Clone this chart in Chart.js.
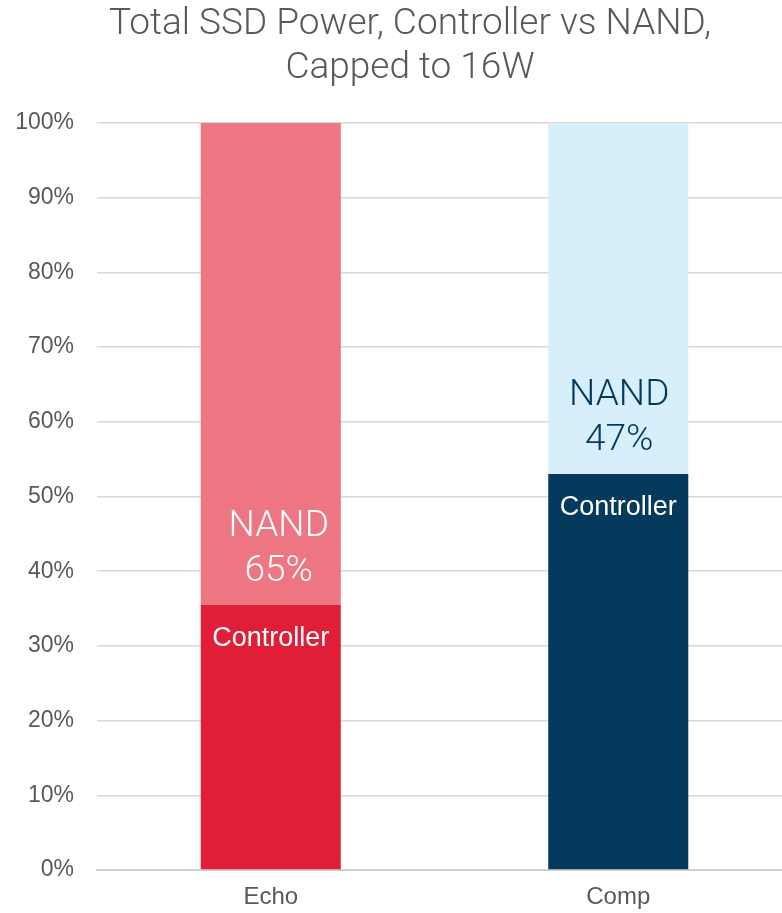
<!DOCTYPE html>
<html>
<head>
<meta charset="utf-8">
<script src="https://cdn.jsdelivr.net/npm/chart.js@4/dist/chart.umd.min.js"></script>
<style>
  html, body { margin: 0; padding: 0; background: #fff; overflow: hidden; }
  #wrap { width: 792px; height: 913px; }
</style>
</head>
<body>
<div id="wrap"><canvas id="chart"></canvas></div>
<script>
// Chart data
const categories = ['Echo', 'Comp'];
const controllerShare = [35.5, 53];
const nandShare = [64.5, 47];
const nandLabels = ['65%', '47%'];
const titleLines = ['Total SSD Power, Controller vs NAND,', 'Capped to 16W'];

// Colors per bar
const controllerColors = ['#E01E37', '#063A5C'];
const nandColors = ['#EE7682', '#D7EEFB'];
const nandTextColors = ['#FFFFFF', '#063A5C'];

// Title + in-bar labels
const labelPlugin = {
  id: 'labels',
  afterDraw(chart) {
    const ctx = chart.ctx;
    ctx.save();
    ctx.textAlign = 'center';
    ctx.textBaseline = 'alphabetic';

    ctx.fillStyle = '#595959';
    ctx.font = '300 37px Roboto, "Liberation Sans", sans-serif';
    ctx.fillText(titleLines[0], 410, 34);
    ctx.fillText(titleLines[1], 410, 78);

    const ctrlMeta = chart.getDatasetMeta(0);
    const nandMeta = chart.getDatasetMeta(1);
    categories.forEach((c, i) => {
      const cBar = ctrlMeta.data[i];
      const nBar = nandMeta.data[i];
      ctx.fillStyle = '#FFFFFF';
      ctx.font = '27px "Liberation Sans", Arial, sans-serif';
      ctx.fillText('Controller', cBar.x, cBar.y + 41);

      ctx.fillStyle = nandTextColors[i];
      ctx.font = '300 37px Roboto, "Liberation Sans", sans-serif';
      const dx = i === 0 ? 8 : 1;
      ctx.fillText('NAND', nBar.x + dx, cBar.y - 69);
      ctx.fillText(nandLabels[i], nBar.x + dx, cBar.y - 24);
    });
    ctx.restore();
  }
};

new Chart(document.getElementById('chart'), {
  type: 'bar',
  data: {
    labels: categories,
    datasets: [
      {
        label: 'Controller',
        data: controllerShare,
        backgroundColor: controllerColors,
        barPercentage: 0.403,
        categoryPercentage: 1
      },
      {
        label: 'NAND',
        data: nandShare,
        backgroundColor: nandColors,
        barPercentage: 0.403,
        categoryPercentage: 1
      }
    ]
  },
  options: {
    responsive: true,
    maintainAspectRatio: false,
    animation: false,
    layout: { padding: { top: 123, left: 0, right: 0, bottom: 0 } },
    plugins: {
      legend: { display: false },
      title: { display: false },
      tooltip: { enabled: false }
    },
    scales: {
      x: {
        stacked: true,
        grid: { display: false, drawTicks: false },
        border: { display: true, color: '#D0D0D0', width: 2 },
        ticks: {
          color: '#595959',
          font: { family: '"Liberation Sans", Arial, sans-serif', size: 24 },
          padding: 13
        },
        afterFit(scale) { scale.height = 43; }
      },
      y: {
        stacked: true,
        min: 0,
        max: 100,
        grid: { color: '#D9D9D9', lineWidth: 1.5, drawTicks: false },
        border: { display: false },
        ticks: {
          stepSize: 10,
          color: '#595959',
          font: { family: '"Liberation Sans", Arial, sans-serif', size: 23 },
          padding: 23,
          callback: v => v + '%'
        },
        afterFit(scale) { scale.width = 97; }
      }
    }
  },
  plugins: [labelPlugin]
});
</script>
</body>
</html>
